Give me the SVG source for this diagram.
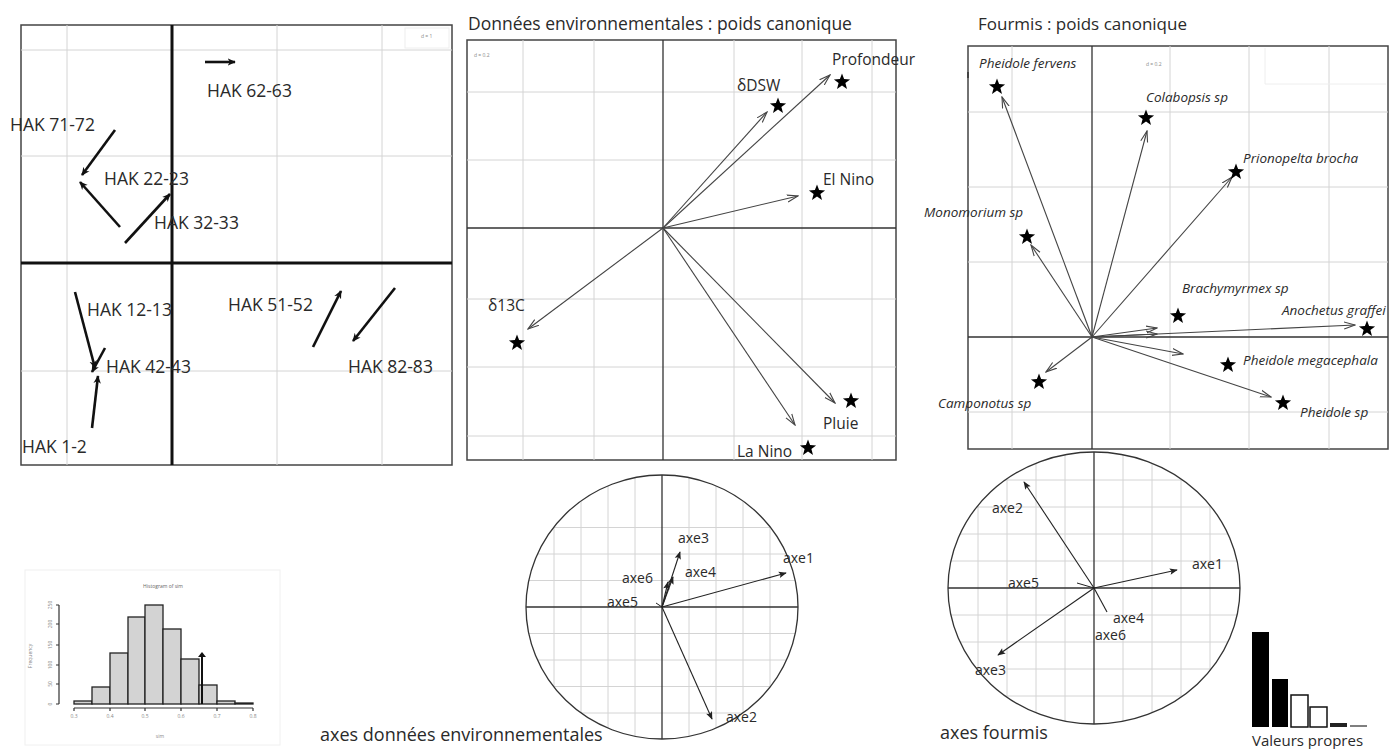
<svg xmlns="http://www.w3.org/2000/svg" width="1391" height="749" viewBox="0 0 1391 749">
<style>
text{font-family:"Open Sans","Liberation Sans",sans-serif;fill:#2a2a2a}
.hak{font-size:17.5px}
.title{font-size:17.5px}
.env{font-size:15.5px}
.ant{font-size:13.5px;font-style:italic}
.ax{font-size:14px}
.cap{font-size:18px}
.tiny{font-size:5px;fill:#888}
.grid{stroke:#d4d4d4;stroke-width:1;fill:none}
.frame{fill:#fff;stroke:#444;stroke-width:1.5}
.axis{stroke:#333;stroke-width:1.3}
.thick{stroke:#111;stroke-width:2.6;fill:none;marker-end:url(#hb)}
.thin{stroke:#444;stroke-width:1.1;fill:none;marker-end:url(#ho)}
.carr{stroke:#222;stroke-width:1.1;fill:none;marker-end:url(#hc)}
.bar{fill:#d3d3d3;stroke:#222;stroke-width:1.3}
</style>
<defs>
<marker id="hb" viewBox="0 0 10 10" refX="9" refY="5" markerWidth="3.2" markerHeight="3.2" orient="auto"><path d="M0,0.5 L10,5 L0,9.5 L3,5 z" fill="#111"/></marker>
<marker id="ho" viewBox="0 0 12 10" refX="11" refY="5" markerWidth="12" markerHeight="10" markerUnits="userSpaceOnUse" orient="auto"><path d="M0,1.5 L11,5 L0,8.5" fill="none" stroke="#444" stroke-width="1.1"/></marker>
<marker id="hc" viewBox="0 0 10 10" refX="9" refY="5" markerWidth="9" markerHeight="8" markerUnits="userSpaceOnUse" orient="auto"><path d="M0,1 L10,5 L0,9 L2,5 z" fill="#222"/></marker>
<path id="star" d="M0,-8.5 L2.1,-2.9 L8.1,-2.6 L3.4,1.1 L5,6.9 L0,3.6 L-5,6.9 L-3.4,1.1 L-8.1,-2.6 L-2.1,-2.9 Z" fill="#000"/>
<clipPath id="c1"><ellipse cx="662" cy="607" rx="136" ry="132"/></clipPath>
<clipPath id="c2"><ellipse cx="1094" cy="588" rx="146" ry="136"/></clipPath>
</defs>
<rect width="1391" height="749" fill="#fff"/>

<!-- Left panel -->
<g id="panel-hak">
<rect class="frame" x="21" y="25" width="431" height="440"/>
<path class="grid" d="M67,25V465 M277,25V465 M382,25V465 M21,50H452 M21,156H452 M21,371H452"/>
<rect x="405" y="28" width="44" height="20" fill="none" stroke="#eee"/>
<text class="tiny" x="421" y="38">d = 1</text>
<path d="M172,25V465 M21,263H452" stroke="#111" stroke-width="3"/>
</g>
<g id="connectors-hak">
<path class="thick" d="M205,62 L235,62"/>
<path class="thick" d="M115,130 L82,175"/>
<path class="thick" d="M120,227 L80,182"/>
<path class="thick" d="M125,243 L170,194"/>
<path class="thick" d="M75,292 L95,368"/>
<path class="thick" d="M105,348 L92,372"/>
<path class="thick" d="M92,428 L98,376"/>
<path class="thick" d="M313,347 L341,291"/>
<path class="thick" d="M395,288 L353,341"/>
</g>
<g id="hak-labels">
<text class="hak" x="207" y="97">HAK 62-63</text>
<text class="hak" x="10" y="131">HAK 71-72</text>
<text class="hak" x="104" y="185">HAK 22-23</text>
<text class="hak" x="154" y="229">HAK 32-33</text>
<text class="hak" x="87" y="316">HAK 12-13</text>
<text class="hak" x="106" y="373">HAK 42-43</text>
<text class="hak" x="22" y="453">HAK 1-2</text>
<text class="hak" x="228" y="311">HAK 51-52</text>
<text class="hak" x="348" y="373">HAK 82-83</text>
</g>

<!-- Middle panel -->
<g id="panel-env">
<text class="title" x="468" y="30">Données environnementales : poids canonique</text>
<rect class="frame" x="467" y="40" width="429" height="420"/>
<path class="grid" d="M523,40V460 M594,40V460 M734,40V460 M802,40V460 M872,40V460 M467,92H896 M467,160H896 M467,299H896 M467,367H896 M467,436H896"/>
<path class="axis" d="M663,40V460 M467,228H896"/>
<text class="tiny" x="474" y="57">d = 0.2</text>
</g>
<g id="connectors-env">
<path class="thin" d="M663,228 L767,112"/>
<path class="thin" d="M663,228 L830,75"/>
<path class="thin" d="M663,228 L798,196"/>
<path class="thin" d="M663,228 L528,329"/>
<path class="thin" d="M663,228 L835,403"/>
<path class="thin" d="M663,228 L795,425"/>
</g>
<g id="env-nodes">
<g id="n-dsw"><use href="#star" x="778" y="106"/><text class="env" x="737" y="91">δDSW</text></g>
<g id="n-prof"><use href="#star" x="842" y="82"/><text class="env" x="832" y="65">Profondeur</text></g>
<g id="n-elnino"><use href="#star" x="817" y="193"/><text class="env" x="823" y="185">El Nino</text></g>
<g id="n-d13c"><use href="#star" x="517" y="343"/><text class="env" x="488" y="311">δ13C</text></g>
<g id="n-pluie"><use href="#star" x="851" y="401"/><text class="env" x="823" y="429">Pluie</text></g>
<g id="n-lanino"><use href="#star" x="808" y="448"/><text class="env" x="737" y="457">La Nino</text></g>
</g>

<!-- Right panel -->
<g id="panel-ants">
<text class="title" x="978" y="30" style="font-size:17px">Fourmis : poids canonique</text>
<rect class="frame" x="968" y="46" width="420" height="403"/>
<path class="grid" d="M1012,46V449 M1170,46V449 M1249,46V449 M1329,46V449 M968,112H1388 M968,187H1388 M968,262H1388 M968,412H1388"/>
<path d="M1265,48V84 M1265,84H1386" stroke="#eee" fill="none"/>
<path class="axis" d="M1092,46V449 M968,337H1388"/>
<path d="M968,72V78" stroke="#333" stroke-width="1.5"/>
<text class="tiny" x="1146" y="66">d = 0.2</text>
</g>
<g id="connectors-ants">
<path class="thin" d="M1092,337 L1002,97"/>
<path class="thin" d="M1092,337 L1147,131"/>
<path class="thin" d="M1092,337 L1232,177"/>
<path class="thin" d="M1092,337 L1031,245"/>
<path class="thin" d="M1092,337 L1157,328"/>
<path class="thin" d="M1092,337 L1157,334"/>
<path class="thin" d="M1092,337 L1355,325"/>
<path class="thin" d="M1092,337 L1183,354"/>
<path class="thin" d="M1092,337 L1271,397"/>
<path class="thin" d="M1092,337 L1046,372"/>
</g>
<g id="ant-nodes">
<g id="a-fervens"><use href="#star" x="997" y="87"/><text class="ant" x="979" y="68">Pheidole fervens</text></g>
<g id="a-colabopsis"><use href="#star" x="1146" y="118"/><text class="ant" x="1146" y="102">Colabopsis sp</text></g>
<g id="a-prionopelta"><use href="#star" x="1236" y="172"/><text class="ant" x="1243" y="163">Prionopelta brocha</text></g>
<g id="a-monomorium"><use href="#star" x="1027" y="237"/><text class="ant" x="924" y="217">Monomorium sp</text></g>
<g id="a-brachymyrmex"><use href="#star" x="1178" y="316"/><text class="ant" x="1182" y="293">Brachymyrmex sp</text></g>
<g id="a-anochetus"><use href="#star" x="1367" y="329"/><text class="ant" x="1282" y="315">Anochetus graffei</text></g>
<g id="a-megacephala"><use href="#star" x="1228" y="365"/><text class="ant" x="1243" y="365">Pheidole megacephala</text></g>
<g id="a-pheidolesp"><use href="#star" x="1283" y="403"/><text class="ant" x="1300" y="417">Pheidole sp</text></g>
<g id="a-camponotus"><use href="#star" x="1039" y="382"/><text class="ant" x="938" y="408">Camponotus sp</text></g>
</g>

<!-- Histogram -->
<g id="histogram">
<rect x="25" y="570" width="255" height="175" fill="#fff" stroke="#f0f0f0"/>
<text class="tiny" x="163" y="588" text-anchor="middle" style="fill:#666">Histogram of sim</text>
<rect class="bar" x="74" y="701" width="18" height="3"/>
<rect class="bar" x="92" y="687" width="18" height="17"/>
<rect class="bar" x="110" y="653" width="18" height="51"/>
<rect class="bar" x="128" y="617" width="17" height="87"/>
<rect class="bar" x="145" y="605" width="18" height="99"/>
<rect class="bar" x="163" y="629" width="18" height="75"/>
<rect class="bar" x="181" y="659" width="18" height="45"/>
<rect class="bar" x="199" y="685" width="18" height="19"/>
<rect class="bar" x="217" y="701" width="18" height="3"/>
<rect class="bar" x="235" y="703" width="18" height="1"/>
<path d="M59,605V704 M56,605H59 M56,624H59 M56,645H59 M56,665H59 M56,684H59 M56,704H59" stroke="#333" stroke-width="1.2" fill="none"/>
<path d="M74,708H253 M74,708V711 M110,708V711 M145,708V711 M181,708V711 M217,708V711 M253,708V711" stroke="#333" stroke-width="1.2" fill="none"/>
<g class="tiny" style="fill:#666">
<text x="74" y="718" text-anchor="middle" class="tiny">0.3</text>
<text x="110" y="718" text-anchor="middle" class="tiny">0.4</text>
<text x="145" y="718" text-anchor="middle" class="tiny">0.5</text>
<text x="181" y="718" text-anchor="middle" class="tiny">0.6</text>
<text x="217" y="718" text-anchor="middle" class="tiny">0.7</text>
<text x="253" y="718" text-anchor="middle" class="tiny">0.8</text>
<text x="160" y="738" text-anchor="middle" class="tiny">sim</text>
<text transform="translate(52,704) rotate(-90)" text-anchor="middle" class="tiny">0</text>
<text transform="translate(52,684) rotate(-90)" text-anchor="middle" class="tiny">50</text>
<text transform="translate(52,665) rotate(-90)" text-anchor="middle" class="tiny">100</text>
<text transform="translate(52,645) rotate(-90)" text-anchor="middle" class="tiny">150</text>
<text transform="translate(52,624) rotate(-90)" text-anchor="middle" class="tiny">200</text>
<text transform="translate(52,605) rotate(-90)" text-anchor="middle" class="tiny">250</text>
<text transform="translate(32,656) rotate(-90)" text-anchor="middle" class="tiny">Frequency</text>
</g>
<path d="M202,704V656" stroke="#111" stroke-width="2"/>
<path d="M198,657 L202,652 L206,657 z" fill="#111"/>
</g>

<!-- Middle circle -->
<g id="circle-env">
<ellipse cx="662" cy="607" rx="136" ry="132" fill="#fff"/>
<g clip-path="url(#c1)">
<path class="grid" d="M554,470V745 M581,470V745 M608,470V745 M635,470V745 M689,470V745 M716,470V745 M743,470V745 M770,470V745 M520,527.5H805 M520,554H805 M520,580.5H805 M520,633.5H805 M520,660H805 M520,686.5H805 M520,713H805"/>
</g>
<path class="axis" d="M662,475V739 M526,607H798"/>
<ellipse cx="662" cy="607" rx="136" ry="132" fill="none" stroke="#333" stroke-width="1.3"/>
</g>
<g id="connectors-circle-env">
<path class="carr" d="M662,607 L786,573"/>
<path class="carr" d="M662,607 L712,719"/>
<path class="carr" d="M662,607 L680,552"/>
<path class="carr" d="M662,607 L673,577"/>
<path class="carr" d="M662,607 L668,582"/>
<path stroke="#222" stroke-width="1" d="M662,607 L656,603"/>
</g>
<g id="circle-env-labels">
<text class="ax" x="783" y="563">axe1</text>
<text class="ax" x="726" y="722">axe2</text>
<text class="ax" x="678" y="543">axe3</text>
<text class="ax" x="685" y="577">axe4</text>
<text class="ax" x="622" y="583">axe6</text>
<text class="ax" x="607" y="607">axe5</text>
<text class="cap" x="320" y="741">axes données environnementales</text>
</g>

<!-- Right circle -->
<g id="circle-ants">
<ellipse cx="1094" cy="588" rx="146" ry="136" fill="#fff"/>
<g clip-path="url(#c2)">
<path class="grid" d="M978,450V726 M1007,450V726 M1036,450V726 M1065,450V726 M1123,450V726 M1152,450V726 M1181,450V726 M1210,450V726 M945,480H1242 M945,507H1242 M945,534H1242 M945,561H1242 M945,615H1242 M945,642H1242 M945,669H1242 M945,696H1242"/>
</g>
<path class="axis" d="M1094,452V724 M948,588H1240"/>
<ellipse cx="1094" cy="588" rx="146" ry="136" fill="none" stroke="#333" stroke-width="1.3"/>
</g>
<g id="connectors-circle-ants">
<path class="carr" d="M1094,588 L1177,570"/>
<path class="carr" d="M1094,588 L1024,482"/>
<path class="carr" d="M1094,588 L998,655"/>
<path stroke="#222" stroke-width="1.1" d="M1094,588 L1107,612"/>
<path stroke="#222" stroke-width="1" d="M1094,588 L1077,583"/>
</g>
<g id="circle-ants-labels">
<text class="ax" x="1192" y="569">axe1</text>
<text class="ax" x="992" y="513">axe2</text>
<text class="ax" x="975" y="675">axe3</text>
<text class="ax" x="1113" y="623">axe4</text>
<text class="ax" x="1095" y="640">axe6</text>
<text class="ax" x="1008" y="588">axe5</text>
<text class="cap" x="940" y="739">axes fourmis</text>
</g>

<!-- Eigenvalues -->
<g id="eigenvalues">
<rect x="1252" y="632" width="17" height="95" fill="#000"/>
<rect x="1272" y="679" width="16" height="48" fill="#000"/>
<rect x="1291" y="695" width="17" height="32" fill="#fff" stroke="#111" stroke-width="1.5"/>
<rect x="1310" y="707" width="17" height="20" fill="#fff" stroke="#111" stroke-width="1.5"/>
<rect x="1330" y="723" width="17" height="4" fill="#222"/>
<path d="M1350,726H1367" stroke="#555" stroke-width="1.5"/>
<text x="1252" y="746" style="font-size:15px">Valeurs propres</text>
</g>
</svg>
